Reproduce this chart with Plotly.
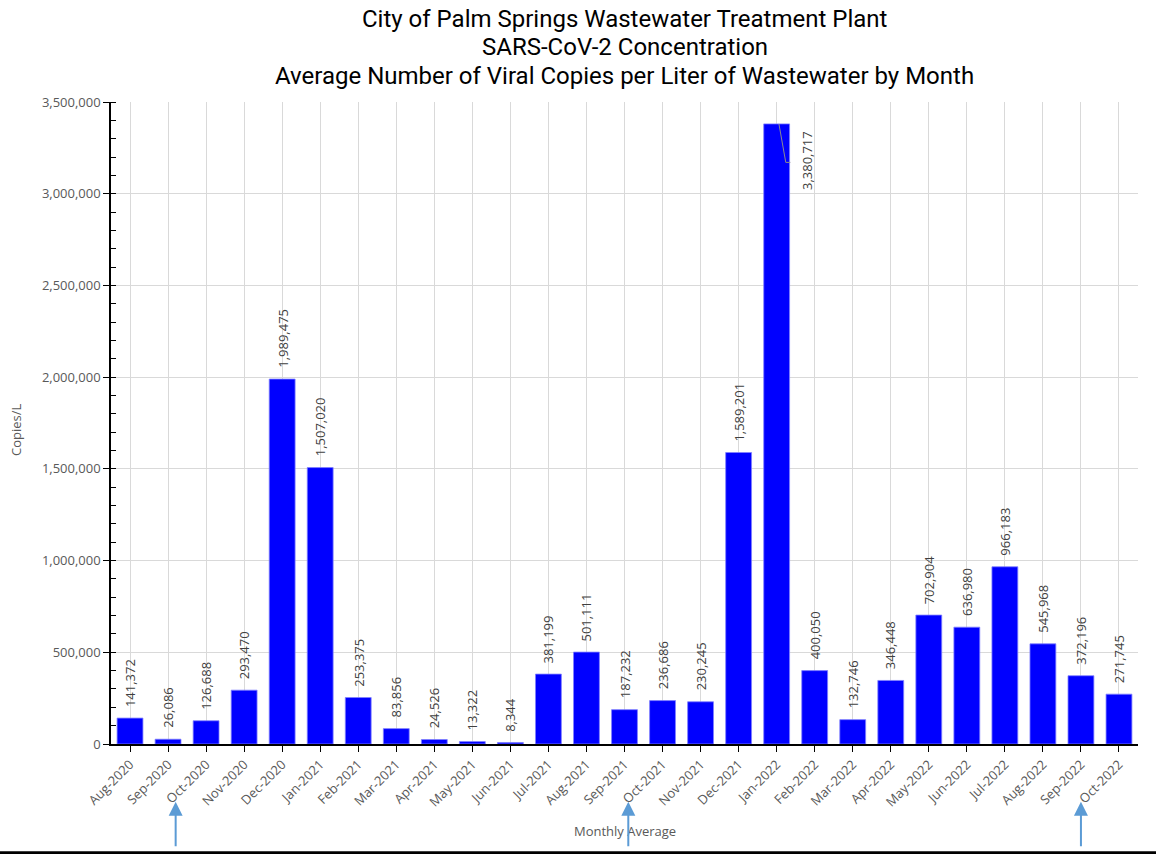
import plotly.graph_objects as go

months = ["Aug-2020", "Sep-2020", "Oct-2020", "Nov-2020", "Dec-2020", "Jan-2021", "Feb-2021",
          "Mar-2021", "Apr-2021", "May-2021", "Jun-2021", "Jul-2021", "Aug-2021", "Sep-2021",
          "Oct-2021", "Nov-2021", "Dec-2021", "Jan-2022", "Feb-2022", "Mar-2022", "Apr-2022",
          "May-2022", "Jun-2022", "Jul-2022", "Aug-2022", "Sep-2022", "Oct-2022"]
copies = [141372, 26086, 126688, 293470, 1989475, 1507020, 253375,
          83856, 24526, 13322, 8344, 381199, 501111, 187232,
          236686, 230245, 1589201, 3380717, 400050, 132746, 346448,
          702904, 636980, 966183, 545968, 372196, 271745]
y_ticks = [0, 500000, 1000000, 1500000, 2000000, 2500000, 3000000, 3500000]
y_max = 3500000
title_lines = ["City of Palm Springs Wastewater Treatment Plant",
               "SARS-CoV-2 Concentration",
               "Average Number of Viral Copies per Liter of Wastewater by Month"]
arrow_x = [1.2, 13.1, 25.0]

FONT = "Open Sans"
GRAY = "#595959"
LABEL = "#404040"

fig = go.Figure()
fig.add_trace(go.Bar(
    x=list(range(len(months))), y=copies,
    marker=dict(color="#0000FF", line=dict(color="#8080ff", width=0.8)),
    width=0.68, hoverinfo="skip",
))

annotations = []
peak = max(range(len(copies)), key=lambda i: copies[i])
for i, v in enumerate(copies):
    if i == peak:
        continue
    annotations.append(dict(
        x=i, y=v, xref="x", yref="y", text=f"{v:,}", showarrow=False,
        textangle=-90, yanchor="bottom", xanchor="center", yshift=9,
        font=dict(family=FONT, size=13, color=LABEL),
    ))
# peak label moved beside the bar with a leader line (as in the original)
annotations.append(dict(
    x=peak, y=copies[peak], xref="x", yref="y", text=f"{copies[peak]:,}", showarrow=False,
    textangle=-90, yanchor="top", xanchor="center", xshift=31, yshift=-5,
    font=dict(family=FONT, size=13, color=LABEL),
))

# title lines (plot area top at 102 px, height 642 px)
for line, py in zip(title_lines, [19, 47, 76]):
    annotations.append(dict(x=0.5, y=1 + (102 - py) / 642, xref="paper", yref="paper", text=line,
                            showarrow=False, xanchor="center", yanchor="middle", borderpad=0,
                            font=dict(family="Roboto", size=24, color="black")))

# axis titles
annotations.append(dict(x=0.5, y=-0.135, xref="paper", yref="paper", text="Monthly Average",
                        showarrow=False, xanchor="center", yanchor="middle",
                        font=dict(family=FONT, size=13, color=GRAY)))
annotations.append(dict(x=-0.092, y=0.49, xref="paper", yref="paper", text="Copies/L",
                        showarrow=False, textangle=-90, xanchor="center", yanchor="middle",
                        font=dict(family=FONT, size=13, color=GRAY)))

# arrows
for ax_ in arrow_x:
    annotations.append(dict(x=ax_, y=-0.090, xref="x", yref="paper", text="",
                            showarrow=True, ax=0, ay=46, arrowhead=2, arrowsize=1.4,
                            arrowwidth=2, arrowcolor="#5B9BD5"))

shapes = [
    dict(type="line", xref="x", yref="y",
         x0=peak + 0.06, y0=copies[peak], x1=peak + 0.24, y1=copies[peak] - 210000,
         line=dict(color="#8c8c8c", width=1)),
    dict(type="line", xref="x", yref="y",
         x0=peak + 0.24, y0=copies[peak] - 210000, x1=peak + 0.36, y1=copies[peak] - 210000,
         line=dict(color="#8c8c8c", width=1)),
    dict(type="line", xref="paper", yref="paper", x0=-0.12, x1=1.03, y0=-0.1695, y1=-0.1695,
         line=dict(color="black", width=3)),
]

fig.update_layout(
    width=1156, height=854,
    margin=dict(l=111, r=18, t=102, b=110),
    paper_bgcolor="white", plot_bgcolor="white",
    showlegend=False,
    annotations=annotations,
    shapes=shapes,
)
fig.update_xaxes(
    tickmode="array", tickvals=list(range(len(months))), ticktext=months,
    range=[-0.5, len(months) - 0.5], tickangle=-45, tickson="boundaries",
    ticks="outside", ticklen=6, tickcolor="black", tickwidth=1,
    showline=True, linecolor="black", linewidth=1.5,
    showgrid=True, gridcolor="#d9d9d9", gridwidth=1,
    tickfont=dict(family=FONT, size=13, color=GRAY), automargin=False,
)
fig.update_yaxes(
    range=[0, y_max], tickmode="array", tickvals=y_ticks,
    ticktext=[f"{t:,}" for t in y_ticks],
    ticks="outside", ticklen=6, tickcolor="black", tickwidth=1,
    showline=True, linecolor="black", linewidth=1.5,
    showgrid=True, gridcolor="#d9d9d9", gridwidth=1, zeroline=False,
    minor=dict(dtick=100000, tick0=0, ticks="inside", ticklen=5, tickcolor="black", showgrid=False),
    tickfont=dict(family=FONT, size=13, color=GRAY), automargin=False,
)

fig.write_html("out.html", config={"displayModeBar": False},
               post_script="document.body.style.margin='0';")
